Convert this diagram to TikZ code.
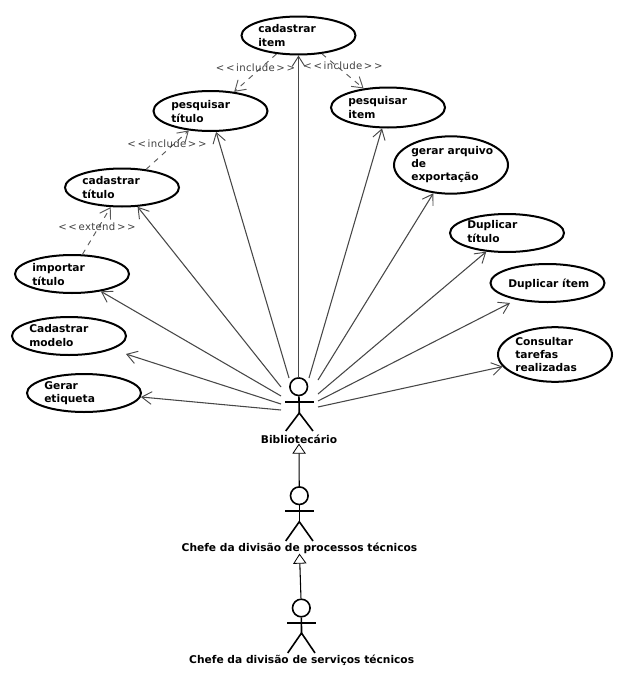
\documentclass[tikz,border=0pt]{standalone}
\usepackage{fontspec}
\setmainfont{DejaVu Sans}
\newfontfamily\stereofont[LetterSpace=3]{DejaVu Sans}
\usetikzlibrary{arrows.meta,shapes.geometric}
\tikzset{
  usecase/.style={draw=black,line width=1.5pt,ellipse,inner sep=0pt,minimum width=85.5pt,minimum height=#1},
  usecase/.default=28.5pt,
  uclabel/.style={anchor=west,inner sep=0pt,align=left,text=black,
    font=\bfseries\fontsize{8}{9.9}\selectfont},
  actorlabel/.style={inner sep=0pt,text=black,font=\bfseries\fontsize{8}{9.9}\selectfont},
  assoc/.style={draw=black!72,line width=.8pt,-{Straight Barb[length=7.5pt,width=9.5pt,line width=.7pt]}},
  dep/.style={draw=black!65,line width=.7pt,dash pattern=on 4pt off 4pt,
    -{Straight Barb[length=7.5pt,width=9.5pt,line width=.7pt]}},
  stereo/.style={inner sep=0pt,text=black!75,font=\stereofont\fontsize{7.6}{9}\selectfont},
  genline/.style={draw=black,line width=.8pt,-{Triangle[open,length=7.5pt,width=10pt,line width=.6pt,fill=white]}},
  limb/.style={draw=black,line width=1.2pt},
  actorhead/.style={draw=black,circle,line width=1.2pt,minimum size=13.2pt,inner sep=0pt},
}
\begin{document}
\begin{tikzpicture}[x=.75pt,y=-.75pt]
\useasboundingbox (0,0) rectangle (622,700);

% Use cases, left-hand fan
\node[usecase] (cadItem) at (298.5,35.5) {};
\node[usecase=30pt] (pesTit) at (210.5,111) {};
\node[usecase] (cadTit) at (122,187.5) {};
\node[usecase] (impTit) at (72,274) {};
\node[usecase] (cadMod) at (69,336) {};
\node[usecase] (gerEti) at (84,393) {};

% Use cases, right-hand fan
\node[usecase=30pt] (pesItem) at (388,107.5) {};
\node[usecase=43pt] (gerArq) at (451,165) {};
\node[usecase] (dupTit) at (507,233) {};
\node[usecase] (dupItem) at (547.5,283) {};
\node[usecase=41pt] (consTar) at (555,354.5) {};

% Use case names
\node[uclabel] (tCadItem) at (258,35.5) {cadastrar\\item};
\node[uclabel] (tPesTit) at (171,111.5) {pesquisar\\título};
\node[uclabel] (tCadTit) at (82,187.5) {cadastrar\\título};
\node[uclabel] (tImpTit) at (32,274.5) {importar\\título};
\node[uclabel] (tCadMod) at (29,335.5) {Cadastrar\\modelo};
\node[uclabel] (tGerEti) at (44,393) {Gerar\\etiqueta};
\node[uclabel] (tPesItem) at (348,107.5) {pesquisar\\item};
\node[uclabel] (tGerArq) at (411,164.5) {gerar arquivo\\de\\exportação};
\node[uclabel] (tDupTit) at (467,231.5) {Duplicar\\título};
\node[uclabel] (tDupItem) at (508,284) {Duplicar ítem};
\node[uclabel] (tConsTar) at (515,354.5) {Consultar\\tarefas\\realizadas};

% Actor: Bibliotecário
\node[actorhead] (headA) at (298.7,386.7) {};
\coordinate (hipA) at (299.3,413);
\draw[limb] (headA) -- (hipA);
\draw[limb] (285,402) coordinate (armAl) -- (314,402) coordinate (armAr);
\draw[limb] (285.7,431) coordinate (legAl) -- (hipA) -- (313,431) coordinate (legAr);
\node[actorlabel] (nameA) at (299,439) {Bibliotecário};

% Actor: Chefe da divisão de processos técnicos
\node[actorhead] (headB) at (299.3,495.7) {};
\coordinate (hipB) at (299.3,521.7);
\draw[limb] (headB) -- (hipB);
\draw[limb] (285,510.7) coordinate (armBl) -- (314,510.7) coordinate (armBr);
\draw[limb] (285.7,541) coordinate (legBl) -- (hipB) -- (313,541) coordinate (legBr);
\node[actorlabel] (nameB) at (299.5,548) {Chefe da divisão de processos técnicos};

% Actor: Chefe da divisão de serviços técnicos
\node[actorhead] (headC) at (301.3,608) {};
\coordinate (hipC) at (301.5,633);
\draw[limb] (headC) -- (hipC);
\draw[limb] (287,623) coordinate (armCl) -- (316,623) coordinate (armCr);
\draw[limb] (287.7,653) coordinate (legCl) -- (hipC) -- (315,653) coordinate (legCr);
\node[actorlabel] (nameC) at (301.7,660.7) {Chefe da divisão de serviços técnicos};

% Where the associations leave the Bibliotecário
\coordinate (fromGer) at (281,410);
\coordinate (fromMod) at (281,404);
\coordinate (fromImp) at (281,396);
\coordinate (fromCad) at (281,387);
\coordinate (fromPes) at (289,378);
\coordinate (fromIte) at (298.5,378);
\coordinate (fromPIt) at (309,378);
\coordinate (fromArq) at (318,380);
\coordinate (fromDTi) at (318,394);
\coordinate (fromDIt) at (318,401);
\coordinate (fromCon) at (318,407);
% Two associations stop short of their ellipse
\coordinate (tipMod) at (126,354);
\coordinate (tipDIt) at (510,303);

% Associations
\draw[assoc] (fromGer) -- (gerEti.-4);
\draw[assoc] (fromMod) -- (tipMod);
\draw[assoc] (fromImp) -- (impTit.-31.5);
\draw[assoc] (fromCad) -- (cadTit.-51);
\draw[assoc] (fromPes) -- (pesTit.-75);
\draw[assoc] (fromIte) -- (cadItem.south);
\draw[assoc] (fromPIt) -- (pesItem.254);
\draw[assoc] (fromArq) -- (gerArq.238.7);
\draw[assoc] (fromDTi) -- (dupTit.222);
\draw[assoc] (fromDIt) -- (tipDIt);
\draw[assoc] (fromCon) -- (consTar.193);

% Include and extend dependencies
\draw[dep] (cadItem.220) -- (pesTit.39);
\draw[dep] (cadItem.-38.5) -- (pesItem.142.4);
\draw[dep] (cadTit.37.6) -- (pesTit.222);
\draw[dep] (impTit.62) -- (cadTit.240);
\node[stereo] (sInc1) at (255.5,68) {<\,<\,include\,>\,>};
\node[stereo] (sInc2) at (343,66) {<\,<\,include\,>\,>};
\node[stereo] (sInc3) at (167,144) {<\,<\,include\,>\,>};
\node[stereo] (sExt) at (97,227) {<\,<\,extend\,>\,>};

% Generalisations between actors
\draw[genline] (headB) -- (nameA.south);
\draw[genline] (headC) -- (nameB.south);
\end{tikzpicture}
\end{document}
